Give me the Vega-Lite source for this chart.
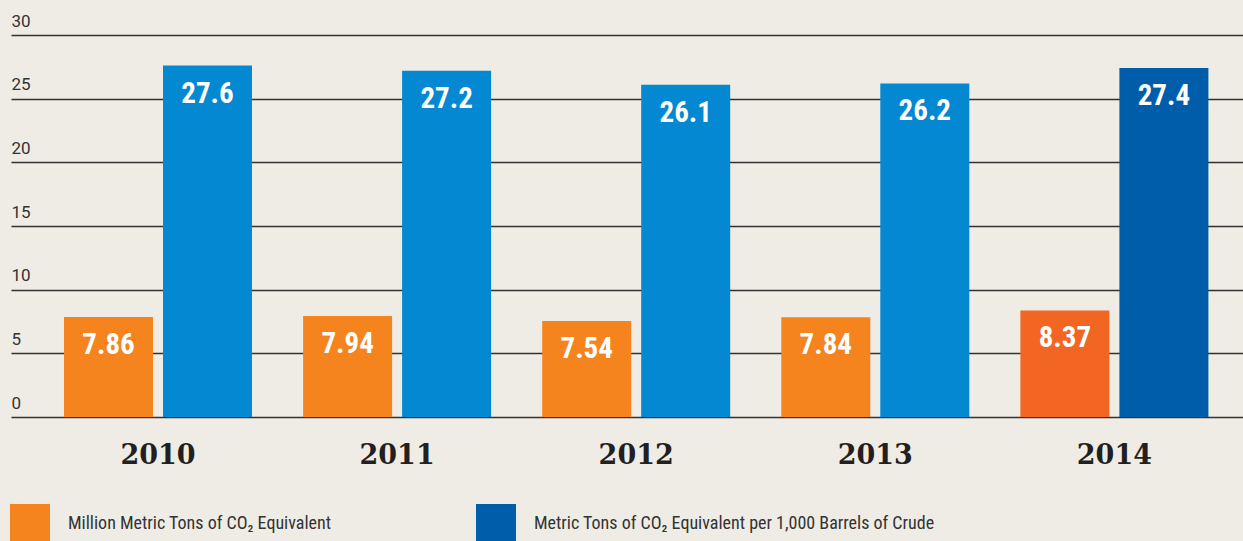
{
  "$schema": "https://vega.github.io/schema/vega-lite/v6.json",
  "width": 1232,
  "height": 382,
  "autosize": {"type": "none"},
  "padding": {"left": 11, "top": 35, "right": 0, "bottom": 124},
  "background": "#efece5",
  "config": {"view": {"stroke": null}},
  "data": {
    "values": [
      {"year": "2010", "series": "Million Metric Tons of CO₂ Equivalent", "value": 7.86},
      {"year": "2010", "series": "Metric Tons of CO₂ Equivalent per 1,000 Barrels of Crude", "value": 27.6},
      {"year": "2011", "series": "Million Metric Tons of CO₂ Equivalent", "value": 7.94},
      {"year": "2011", "series": "Metric Tons of CO₂ Equivalent per 1,000 Barrels of Crude", "value": 27.2},
      {"year": "2012", "series": "Million Metric Tons of CO₂ Equivalent", "value": 7.54},
      {"year": "2012", "series": "Metric Tons of CO₂ Equivalent per 1,000 Barrels of Crude", "value": 26.1},
      {"year": "2013", "series": "Million Metric Tons of CO₂ Equivalent", "value": 7.84},
      {"year": "2013", "series": "Metric Tons of CO₂ Equivalent per 1,000 Barrels of Crude", "value": 26.2},
      {"year": "2014", "series": "Million Metric Tons of CO₂ Equivalent", "value": 8.37},
      {"year": "2014", "series": "Metric Tons of CO₂ Equivalent per 1,000 Barrels of Crude", "value": 27.4}
    ]
  },
  "encoding": {
    "x": {
      "field": "year",
      "type": "nominal",
      "scale": {"paddingInner": 0.2137, "paddingOuter": 0.1832, "align": 0.605},
      "axis": {
        "title": null,
        "orient": "bottom",
        "domain": false,
        "ticks": false,
        "tickSize": 0,
        "labelPadding": 46,
        "labelBaseline": "alphabetic",
        "labelAngle": 0,
        "labelFont": "DejaVu Serif",
        "labelFontWeight": "bold",
        "labelFontSize": 27,
        "labelColor": "#231f20"
      }
    },
    "xOffset": {
      "field": "series",
      "type": "nominal",
      "sort": ["Million Metric Tons of CO₂ Equivalent", "Metric Tons of CO₂ Equivalent per 1,000 Barrels of Crude"],
      "scale": {"paddingInner": 0.101, "paddingOuter": 0}
    },
    "y": {
      "field": "value",
      "type": "quantitative",
      "scale": {"domain": [0, 30], "nice": false},
      "axis": {
        "title": null,
        "values": [0, 5, 10, 15, 20, 25, 30],
        "domain": false,
        "ticks": false,
        "tickSize": 0,
        "labelAlign": "left",
        "labelBaseline": "alphabetic",
        "labelPadding": 0,
        "labelOffset": -9,
        "labelFont": "Roboto",
        "labelFontSize": 17,
        "labelColor": "#333333",
        "grid": true,
        "gridColor": "#333333",
        "gridWidth": 1.5,
        "gridOpacity": 1
      }
    }
  },
  "layer": [
    {
      "mark": {"type": "bar"},
      "encoding": {
        "color": {
          "condition": [
            {"test": "datum.year === '2014' && datum.series === 'Million Metric Tons of CO₂ Equivalent'", "value": "#f26522"},
            {"test": "datum.year !== '2014' && datum.series !== 'Million Metric Tons of CO₂ Equivalent'", "value": "#0388d1"}
          ],
          "field": "series",
          "type": "nominal",
          "sort": ["Million Metric Tons of CO₂ Equivalent", "Metric Tons of CO₂ Equivalent per 1,000 Barrels of Crude"],
          "scale": {"range": ["#f5841f", "#005da9"]},
          "legend": {
            "orient": "none",
            "legendX": -1,
            "legendY": 469,
            "direction": "horizontal",
            "columns": 2,
            "title": null,
            "symbolType": "square",
            "symbolSize": 1600,
            "symbolStrokeWidth": 0,
            "symbolOpacity": 1,
            "symbolOffset": 0,
            "labelFont": "Liberation Sans Narrow, Roboto Condensed, Roboto",
            "labelFontSize": 18,
            "labelColor": "#333333",
            "labelOffset": 18,
            "labelBaseline": "middle",
            "labelLimit": 600,
            "columnPadding": 7,
            "gridAlign": "all",
            "padding": 0
          }
        }
      }
    },
    {
      "mark": {
        "type": "text",
        "dy": 37,
        "baseline": "alphabetic",
        "align": "center",
        "color": "#ffffff",
        "font": "Liberation Sans Narrow, Roboto Condensed, Roboto",
        "fontWeight": "bold",
        "fontSize": 29
      },
      "encoding": {
        "text": {"field": "value", "type": "quantitative", "format": ".3~g"}
      }
    }
  ]
}
